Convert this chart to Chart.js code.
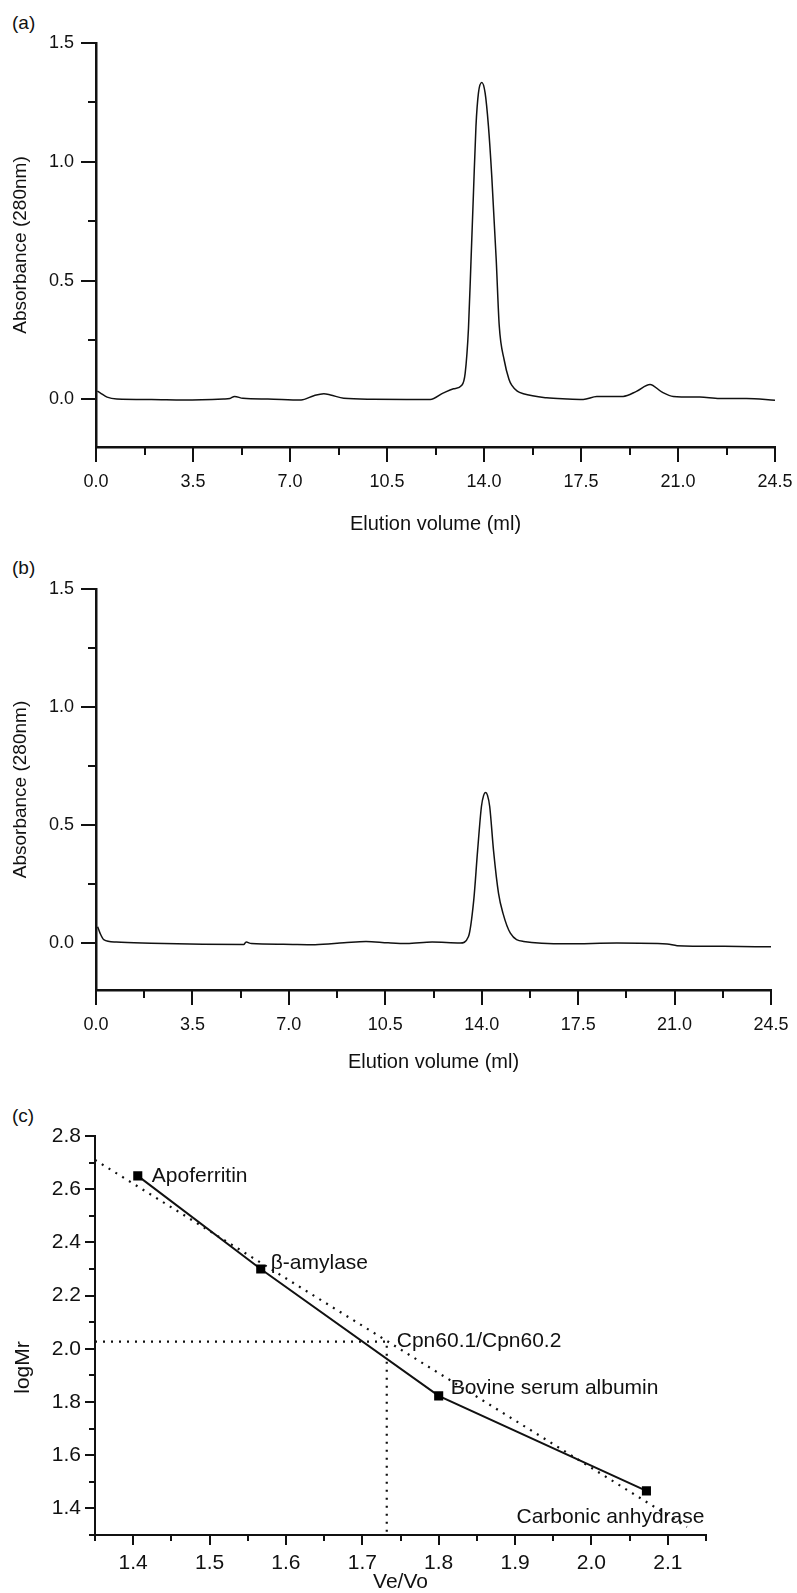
<!DOCTYPE html>
<html>
<head>
<meta charset="utf-8">
<script src="https://cdn.jsdelivr.net/npm/chart.js@4"></script>
<style>
  body { margin: 0; background: #fff; width: 797px; height: 1593px; position: relative; overflow: hidden; font-family: "Liberation Sans", Arial, sans-serif; }
  canvas { position: absolute; left: 0; }
  .tag { position: absolute; left: 12px; font-size: 19px; color: #111; }
</style>
</head>
<body>
<div class="tag" style="top:12px">(a)</div>
<div class="tag" style="top:557px">(b)</div>
<div class="tag" style="top:1105px">(c)</div>
<canvas id="chartA" width="797" height="545" style="top:0"></canvas>
<canvas id="chartB" width="797" height="540" style="top:545px"></canvas>
<canvas id="chartC" width="797" height="508" style="top:1085px"></canvas>
<script>
"use strict";

// (a) chromatogram
const volumeA = [0.05, 0.15, 0.4, 0.75, 2.0, 3.15, 4.6, 4.83, 5.0, 5.3, 6.2, 7.4, 7.86, 8.22, 8.46, 8.94, 10.0, 11.2, 12.06, 12.54, 12.9, 13.2, 13.32, 13.44, 13.53, 13.62, 13.71, 13.8, 13.92, 14.04, 14.16, 14.28, 14.44, 14.55, 14.73, 14.9, 15.0, 15.2, 15.42, 16.26, 17.0, 17.58, 18.07, 19.02, 19.5, 19.99, 20.41, 20.83, 21.79, 22.5, 23.47, 24.5];
const absA = [0.035, 0.028, 0.01, 0.002, 0.0, -0.002, 0.002, 0.004, 0.013, 0.005, 0.002, -0.002, 0.016, 0.024, 0.019, 0.005, 0.001, 0.0, 0.0, 0.028, 0.045, 0.06, 0.11, 0.30, 0.58, 0.87, 1.15, 1.29, 1.334, 1.29, 1.15, 0.94, 0.59, 0.31, 0.165, 0.085, 0.06, 0.035, 0.024, 0.007, 0.002, 0.0, 0.012, 0.013, 0.034, 0.063, 0.032, 0.013, 0.01, 0.004, 0.004, -0.003];

// (b) chromatogram
const volumeB = [0.06, 0.15, 0.28, 0.74, 2.0, 3.88, 5.36, 5.45, 5.64, 6.8, 7.95, 9.0, 9.8, 10.6, 11.28, 12.2, 13.22, 13.52, 13.71, 13.85, 13.99, 14.07, 14.14, 14.21, 14.29, 14.43, 14.61, 14.77, 15.04, 15.52, 17.1, 18.91, 20.73, 21.09, 22.8, 24.5];
const absB = [0.068, 0.04, 0.014, 0.003, -0.002, -0.006, -0.007, 0.003, -0.003, -0.006, -0.008, 0.0, 0.006, 0.0, -0.003, 0.003, -0.001, 0.027, 0.18, 0.39, 0.578, 0.625, 0.637, 0.625, 0.578, 0.39, 0.21, 0.126, 0.041, 0.006, -0.004, -0.001, -0.005, -0.012, -0.015, -0.017];

const elutionTicks = [0, 3.5, 7, 10.5, 14, 17.5, 21, 24.5];
const elutionMinor = [1.75, 5.25, 8.75, 12.25, 15.75, 19.25, 22.75];
const absTicks = [0, 0.5, 1.0, 1.5];
const absMinor = [0.25, 0.75, 1.25];

// (c) calibration
const proteins = ["Apoferritin", "\u03b2-amylase", "Bovine serum albumin", "Carbonic anhydrase"];
const veVo = [1.406, 1.567, 1.80, 2.072];
const logMr = [2.65, 2.30, 1.823, 1.466];
const fitVeVo = [1.35, 2.125];
const fitLogMr = [2.71, 1.33];
const cpnName = "Cpn60.1/Cpn60.2";
const cpnVeVo = [1.35, 1.732, 1.732];
const cpnLogMr = [2.027, 2.027, 1.30];
const veVoTicks = [1.4, 1.5, 1.6, 1.7, 1.8, 1.9, 2.0, 2.1];
const veVoMinor = [1.35, 1.45, 1.55, 1.65, 1.75, 1.85, 1.95, 2.05, 2.15];
const logMrTicks = [1.4, 1.6, 1.8, 2.0, 2.2, 2.4, 2.6, 2.8];
const logMrMinor = [1.3, 1.5, 1.7, 1.9, 2.1, 2.3, 2.5, 2.7];

const FONT = "'Liberation Sans', Arial, sans-serif";
const pts = (xs, ys) => xs.map((v, i) => ({ x: v, y: ys[i] }));

// draws major + minor tick marks outside the axes
const tickMarks = {
  id: "tickMarks",
  afterDraw(chart, args, o) {
    const ctx = chart.ctx;
    const sx = chart.scales.x, sy = chart.scales.y;
    ctx.save();
    ctx.strokeStyle = "#111";
    ctx.lineWidth = o.width;
    for (const [vals, len] of [[o.xMajor, o.major], [o.xMinor, o.minor]]) {
      for (const v of vals) {
        const px = Math.round(sx.getPixelForValue(v));
        ctx.beginPath();
        ctx.moveTo(px, sy.bottom);
        ctx.lineTo(px, sy.bottom + len);
        ctx.stroke();
      }
    }
    for (const [vals, len] of [[o.yMajor, o.major], [o.yMinor, o.minor]]) {
      for (const v of vals) {
        const py = Math.round(sy.getPixelForValue(v));
        ctx.beginPath();
        ctx.moveTo(sx.left, py);
        ctx.lineTo(sx.left - len, py);
        ctx.stroke();
      }
    }
    ctx.restore();
  }
};

function chromatogram(id, xs, ys, topPad, rightPad, xHeight, titlePad) {
  return new Chart(document.getElementById(id), {
    type: "line",
    data: {
      datasets: [{
        data: pts(xs, ys),
        borderColor: "#111",
        borderWidth: 1.5,
        pointRadius: 0,
        cubicInterpolationMode: "monotone",
        fill: false
      }]
    },
    options: {
      responsive: false,
      animation: false,
      devicePixelRatio: 1,
      layout: { padding: { top: topPad, right: rightPad, left: 0, bottom: 0 } },
      plugins: {
        legend: { display: false },
        tooltip: { enabled: false },
        tickMarks: { xMajor: elutionTicks, xMinor: elutionMinor, yMajor: absTicks, yMinor: absMinor, major: 15, minor: 8, width: 2 }
      },
      scales: {
        x: {
          type: "linear", min: 0, max: 24.5,
          afterBuildTicks: s => { s.ticks = elutionTicks.map(v => ({ value: v })); },
          afterFit: s => { s.height = xHeight; s.paddingLeft = 0; s.paddingRight = 0; },
          grid: { display: true, drawOnChartArea: false, drawTicks: false },
          border: { display: true, color: "#111", width: 2.5 },
          ticks: { color: "#111", padding: 24, font: { family: FONT, size: 18 }, callback: v => v.toFixed(1), maxRotation: 0 },
          title: { display: true, text: "Elution volume (ml)", color: "#111", font: { family: FONT, size: 20 }, padding: { bottom: titlePad } }
        },
        y: {
          type: "linear", min: -0.2, max: 1.5,
          afterBuildTicks: s => { s.ticks = absTicks.map(v => ({ value: v })); },
          afterFit: s => { s.width = 96; },
          grid: { display: true, drawOnChartArea: false, drawTicks: false },
          border: { display: true, color: "#111", width: 2.5 },
          ticks: { color: "#111", padding: 22, font: { family: FONT, size: 18 }, callback: v => v.toFixed(1) },
          title: { display: true, text: "Absorbance (280nm)", color: "#111", font: { family: FONT, size: 19 }, padding: { top: 9 } }
        }
      }
    },
    plugins: [tickMarks]
  });
}

chromatogram("chartA", volumeA, absA, 43, 22, 98, 9);
chromatogram("chartB", volumeB, absB, 44, 26, 95, 11);

// protein names next to the calibration points, plus the rotated y title
const proteinLabels = {
  id: "proteinLabels",
  afterDatasetsDraw(chart) {
    const ctx = chart.ctx;
    const sx = chart.scales.x, sy = chart.scales.y;
    const offs = [[14, 0, "left"], [10, -6, "left"], [12, -8, "left"], [58, 26, "right"]];
    ctx.save();
    ctx.fillStyle = "#111";
    ctx.font = "21px " + FONT;
    ctx.textBaseline = "middle";
    proteins.forEach((name, i) => {
      ctx.textAlign = offs[i][2];
      ctx.fillText(name, sx.getPixelForValue(veVo[i]) + offs[i][0], sy.getPixelForValue(logMr[i]) + offs[i][1]);
    });
    ctx.textAlign = "left";
    ctx.fillText(cpnName, sx.getPixelForValue(cpnVeVo[1]) + 10, sy.getPixelForValue(cpnLogMr[1]));
    ctx.translate(23, (chart.chartArea.top + chart.chartArea.bottom) / 2 + 32);
    ctx.rotate(-Math.PI / 2);
    ctx.textAlign = "center";
    ctx.font = "21px " + FONT;
    ctx.fillText("logMr", 0, 0);
    ctx.restore();
  }
};

const dotted = { borderColor: "#111", borderWidth: 2.2, borderDash: [2, 6], pointRadius: 0, fill: false };

new Chart(document.getElementById("chartC"), {
  type: "line",
  data: {
    datasets: [
      { data: pts(veVo, logMr), borderColor: "#111", borderWidth: 2, pointStyle: "rect", pointRadius: 5, pointBackgroundColor: "#000", pointBorderColor: "#000", fill: false },
      Object.assign({ data: pts(fitVeVo, fitLogMr) }, dotted),
      Object.assign({ data: pts(cpnVeVo, cpnLogMr) }, dotted)
    ]
  },
  options: {
    responsive: false,
    animation: false,
    devicePixelRatio: 1,
    layout: { padding: { top: 51, right: 91, left: 0, bottom: 0 } },
    plugins: {
      legend: { display: false },
      tooltip: { enabled: false },
      tickMarks: { xMajor: veVoTicks, xMinor: veVoMinor, yMajor: logMrTicks, yMinor: logMrMinor, major: 10, minor: 6, width: 2 }
    },
    scales: {
      x: {
        type: "linear", min: 1.35, max: 2.15,
        afterBuildTicks: s => { s.ticks = veVoTicks.map(v => ({ value: v })); },
        afterFit: s => { s.height = 58; },
        grid: { display: true, drawOnChartArea: false, drawTicks: false },
        border: { display: true, color: "#111", width: 2 },
        ticks: { color: "#111", padding: 16, font: { family: FONT, size: 21 }, callback: v => v.toFixed(1), maxRotation: 0 },
        title: { display: true, text: "Ve/Vo", color: "#111", font: { family: FONT, size: 21, lineHeight: 1 }, padding: { bottom: 0 } }
      },
      y: {
        type: "linear", min: 1.3, max: 2.8,
        afterBuildTicks: s => { s.ticks = logMrTicks.map(v => ({ value: v })); },
        afterFit: s => { s.width = 95; },
        grid: { display: true, drawOnChartArea: false, drawTicks: false },
        border: { display: true, color: "#111", width: 2 },
        ticks: { color: "#111", padding: 14, font: { family: FONT, size: 21 }, callback: v => v.toFixed(1) },
        title: { display: false }
      }
    }
  },
  plugins: [tickMarks, proteinLabels]
});
</script>
</body>
</html>
